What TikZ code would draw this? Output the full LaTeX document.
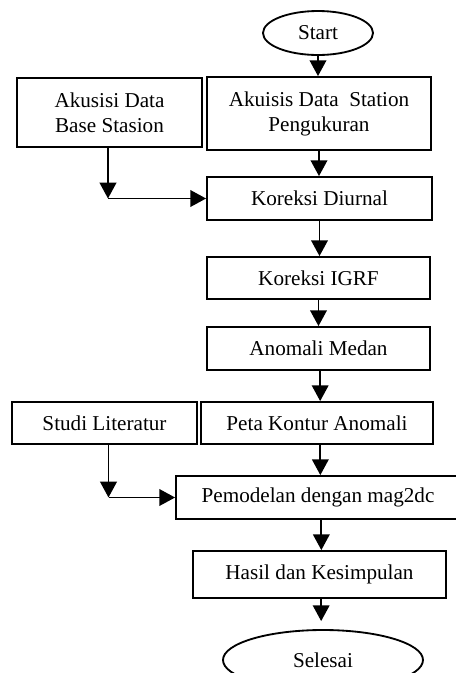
\documentclass[tikz,border=0pt]{standalone}
\usepackage{fontspec}
\setmainfont{Liberation Serif}
\usetikzlibrary{shapes.geometric,arrows.meta}

\begin{document}
\begin{tikzpicture}[x=0.6pt, y=-0.6pt,
  font=\fontsize{12.7}{15}\selectfont,
  procbox/.style={rectangle, draw=black, line width=1.1pt, align=center, inner sep=0pt},
  termnode/.style={ellipse, draw=black, line width=1.1pt, inner sep=0pt},
  flowarrow/.style={line width=1.1pt, -{Triangle[length=9.5pt,width=10pt]}}]
  \useasboundingbox (0,0) rectangle (456,673);
  \node[termnode, minimum width=66pt, minimum height=26.4pt] (start) at (318,33) {Start};
  \node[procbox, minimum width=134.4pt, minimum height=43.8pt] (akuisis) at (319,113.5) {Akuisis Data~ Station\\Pengukuran};
  \node[procbox, minimum width=111pt, minimum height=41.4pt] (basestasion) at (109.5,112.5) {Akusisi Data\\Base Stasion};
  \node[procbox, minimum width=135pt, minimum height=25.8pt] (diurnal) at (319.5,198.5) {Koreksi Diurnal};
  \node[procbox, minimum width=133.8pt, minimum height=25.2pt] (igrf) at (318.5,278) {Koreksi IGRF};
  \node[procbox, minimum width=133.8pt, minimum height=25.8pt] (medan) at (318.5,348.5) {Anomali Medan};
  \node[procbox, minimum width=139.2pt, minimum height=25.2pt] (kontur) at (317,423) {Peta Kontur Anomali};
  \node[procbox, minimum width=111pt, minimum height=25.2pt] (literatur) at (104.5,423) {Studi Literatur};
  \node[procbox, minimum width=170.4pt, minimum height=25.8pt] (pemodelan) at (318,497.5) {Pemodelan dengan mag2dc};
  \node[procbox, minimum width=151.8pt, minimum height=28.2pt] (hasil) at (319.5,574.5) {Hasil dan Kesimpulan};
  \node[termnode, minimum width=120pt, minimum height=36pt] (selesai) at (323,660) {Selesai};

  \coordinate (basecorner) at ([xshift=-0.9pt]basestasion.south |- diurnal.west);
  \coordinate (litcorner) at ([xshift=2.4pt]literatur.south |- pemodelan.west);

  \draw[flowarrow] (start.south) -- (start.south |- akuisis.north);
  \draw[flowarrow] (akuisis.south) -- (akuisis.south |- diurnal.north);
  \draw[flowarrow] (basecorner |- basestasion.south) -- (basecorner);
  \draw[flowarrow] (basecorner) -- (diurnal.west);
  \draw[flowarrow] (diurnal.south) -- (diurnal.south |- igrf.north);
  \draw[flowarrow] (igrf.south) -- (igrf.south |- medan.north);
  \draw[flowarrow] ([xshift=1pt]medan.south) -- ([xshift=1pt]medan.south |- kontur.north);
  \draw[flowarrow] ([xshift=2pt]kontur.south) -- ([xshift=2pt]kontur.south |- pemodelan.north);
  \draw[flowarrow] (litcorner |- literatur.south) -- (litcorner);
  \draw[flowarrow] (litcorner) -- (pemodelan.west);
  \draw[flowarrow] ([xshift=2pt]pemodelan.south) -- ([xshift=2pt]pemodelan.south |- hasil.north);
  \draw[flowarrow, shorten >=4.8pt] ([xshift=1pt]hasil.south) -- ([xshift=1pt]hasil.south |- selesai.north);
\end{tikzpicture}
\end{document}
